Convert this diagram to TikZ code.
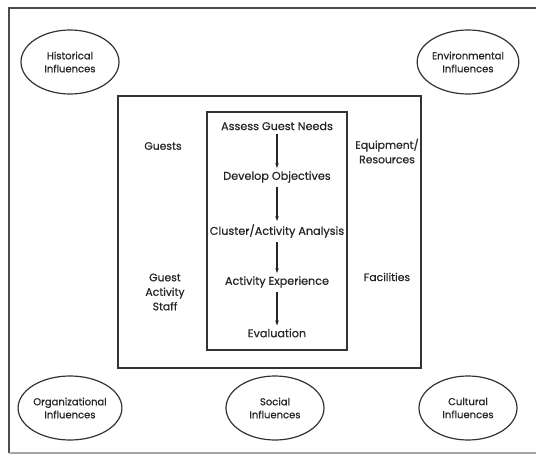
\documentclass[tikz,border=0pt]{standalone}
\usepackage{fontspec}
\setmainfont{Poppins}[FakeBold=0.6]
\usetikzlibrary{shapes.geometric,arrows.meta}
\begin{document}
\begin{tikzpicture}[x=1pt,y=-1pt,
  infl/.style={draw=black!80,line width=1.2pt,ellipse,minimum width=98pt,minimum height=64pt,inner sep=0pt,align=center,font=\fontsize{10}{13}\selectfont,text=black!85},
  stage/.style={font=\fontsize{11.2}{13}\selectfont,text=black!85,inner sep=1pt},
  side/.style={font=\fontsize{10.8}{14.5}\selectfont,text=black!85,align=center,inner sep=0pt},
  flow/.style={-{Stealth[length=5pt,width=3.5pt]},line width=1.1pt,draw=black!85,shorten <=3pt,shorten >=2pt},
  frame/.style={draw=black!80,line width=1.3pt}]
\useasboundingbox (0,0) rectangle (536,460);
% outer frame
\draw[draw=black!70,line width=1.2pt] (536,8) -- (9,8) -- (9,453);
\draw[draw=black!35,line width=1.2pt] (9,453) -- (536,453);
% boxes
\draw[frame] (118,96) rectangle (421,368);
\draw[frame] (207,112) rectangle (347,350);
% influences
\node[infl] (hist) at (70,62) {Historical\\Influences};
\node[infl] (env) at (468,62) {Environmental\\Influences};
\node[infl] (org) at (70,408) {Organizational\\Influences};
\node[infl] (soc) at (275,408) {Social\\Influences};
\node[infl] (cult) at (468,408) {Cultural\\Influences};
% stages
\node[stage] (s1) at (277,126) {Assess Guest Needs};
\node[stage] (s2) at (277,177) {Develop Objectives};
\node[stage] (s3) at (277,231) {Cluster/Activity Analysis};
\node[stage] (s4) at (277,282) {Activity Experience};
\node[stage] (s5) at (277,333) {Evaluation};
\draw[flow] (s1) -- (s2);
\draw[flow] (s2) -- (s3);
\draw[flow] (s3) -- (s4);
\draw[flow] (s4) -- (s5);
% side labels
\node[side] (guests) at (163,146) {Guests};
\node[side] (equip) at (387,151) {Equipment/\\Resources};
\node[side] (gas) at (165,292) {Guest\\Activity\\Staff};
\node[side] (fac) at (387,277) {Facilities};
\end{tikzpicture}
\end{document}
